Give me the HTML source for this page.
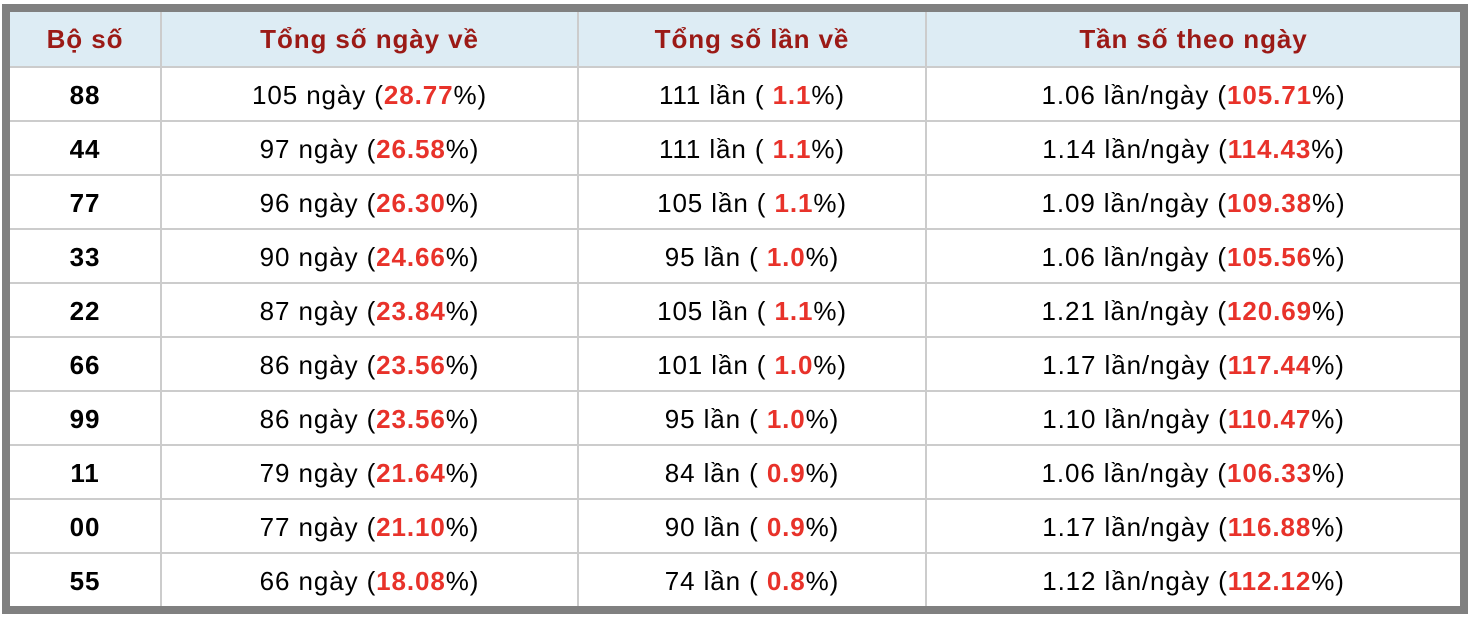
<!DOCTYPE html><html><head><style>
body{margin:0;background:#fff;width:1480px;height:622px;overflow:hidden;font-family:"Liberation Sans",Arial,sans-serif}
.box{position:absolute;left:2px;top:4px;width:1450px;height:594px;border:8px solid #808080;background:#fff}
table{border-collapse:collapse;width:1450px;table-layout:fixed}
td,th{height:52px;padding:0;text-align:center;font-size:26px;letter-spacing:0.9px;border:2px solid #cccccc;color:#000}
tr:first-child th{border-top:none;height:53px;padding-top:1px}
tr:last-child td{border-bottom:none}
td:first-child,th:first-child{border-left:none}
td:last-child,th:last-child{border-right:none}
th{background:#ddecf4;color:#9b1a16;font-weight:bold;font-size:26px}
td{padding-top:2px;height:50px}
td:first-child{font-weight:bold}
b{color:#e8322a}
</style></head><body><div class="box"><table>
<colgroup><col style="width:151px"><col style="width:417px"><col style="width:348px"><col></colgroup>
<tr><th>Bộ số</th><th>Tổng số ngày về</th><th>Tổng số lần về</th><th>Tần số theo ngày</th></tr>
<tr><td>88</td><td>105 ngày (<b>28.77</b>%)</td><td>111 lần ( <b>1.1</b>%)</td><td>1.06 lần/ngày (<b>105.71</b>%)</td></tr>
<tr><td>44</td><td>97 ngày (<b>26.58</b>%)</td><td>111 lần ( <b>1.1</b>%)</td><td>1.14 lần/ngày (<b>114.43</b>%)</td></tr>
<tr><td>77</td><td>96 ngày (<b>26.30</b>%)</td><td>105 lần ( <b>1.1</b>%)</td><td>1.09 lần/ngày (<b>109.38</b>%)</td></tr>
<tr><td>33</td><td>90 ngày (<b>24.66</b>%)</td><td>95 lần ( <b>1.0</b>%)</td><td>1.06 lần/ngày (<b>105.56</b>%)</td></tr>
<tr><td>22</td><td>87 ngày (<b>23.84</b>%)</td><td>105 lần ( <b>1.1</b>%)</td><td>1.21 lần/ngày (<b>120.69</b>%)</td></tr>
<tr><td>66</td><td>86 ngày (<b>23.56</b>%)</td><td>101 lần ( <b>1.0</b>%)</td><td>1.17 lần/ngày (<b>117.44</b>%)</td></tr>
<tr><td>99</td><td>86 ngày (<b>23.56</b>%)</td><td>95 lần ( <b>1.0</b>%)</td><td>1.10 lần/ngày (<b>110.47</b>%)</td></tr>
<tr><td>11</td><td>79 ngày (<b>21.64</b>%)</td><td>84 lần ( <b>0.9</b>%)</td><td>1.06 lần/ngày (<b>106.33</b>%)</td></tr>
<tr><td>00</td><td>77 ngày (<b>21.10</b>%)</td><td>90 lần ( <b>0.9</b>%)</td><td>1.17 lần/ngày (<b>116.88</b>%)</td></tr>
<tr><td>55</td><td>66 ngày (<b>18.08</b>%)</td><td>74 lần ( <b>0.8</b>%)</td><td>1.12 lần/ngày (<b>112.12</b>%)</td></tr>
</table></div></body></html>
